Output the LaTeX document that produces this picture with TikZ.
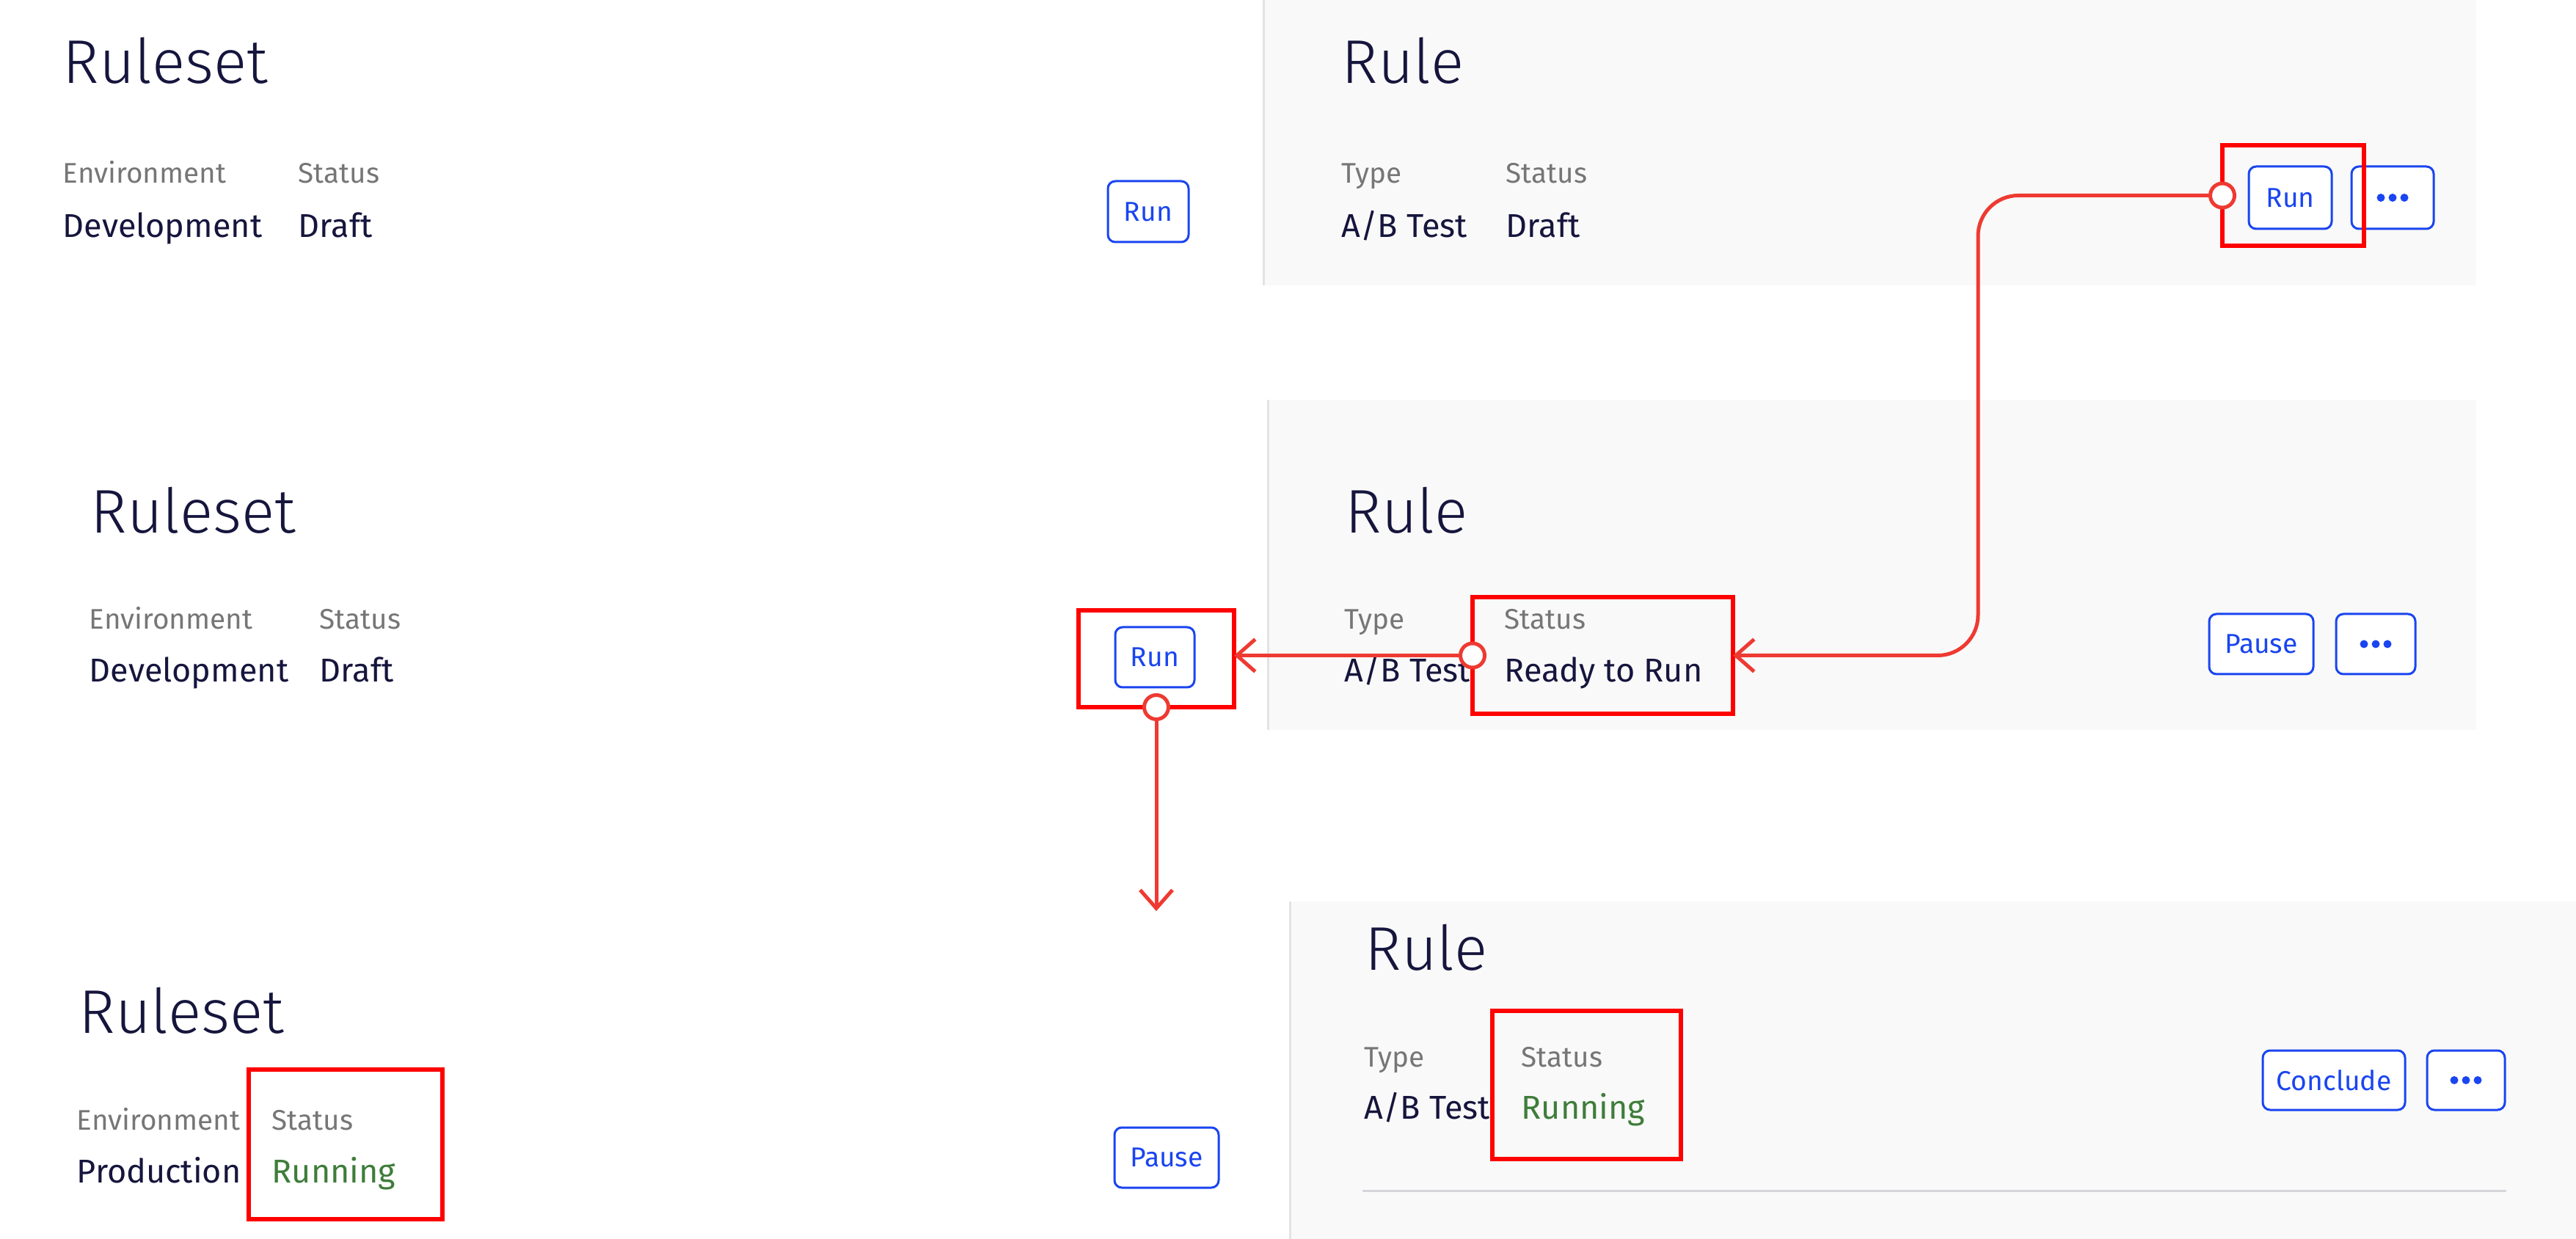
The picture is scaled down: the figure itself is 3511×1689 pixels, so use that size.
\documentclass[tikz,border=0pt]{standalone}
\usepackage{fontspec}
\setmainfont{Fira Sans}
\newfontfamily\thinfont{Fira Sans Light}
\usepackage{tikz}
\usetikzlibrary{arrows.meta,fit,positioning}
\definecolor{ink}{HTML}{15153D}
\definecolor{muted}{HTML}{767676}
\definecolor{okgreen}{HTML}{3E7D3A}
\definecolor{btnblue}{HTML}{1A45F0}
\definecolor{hlred}{HTML}{FF0000}
\definecolor{flowred}{HTML}{EE3A32}
\definecolor{panelbg}{HTML}{F9F9F9}
\definecolor{rim}{HTML}{E3E3E3}
\definecolor{sepline}{HTML}{D6D6DA}

\begin{document}
\begin{tikzpicture}[x=0.01cm, y=-0.01cm,
  title/.style={anchor=base west, inner sep=0, text=ink, font=\thinfont\fontsize{23.9}{26}\selectfont},
  label/.style={anchor=base west, inner sep=0, text=muted, font=\fontsize{11}{12}\selectfont},
  value/.style={anchor=base west, inner sep=0, text=ink, font=\fontsize{12.8}{14}\selectfont},
  btn/.style={draw=btnblue, line width=0.03cm, rounded corners=0.1cm, fill=white, inner sep=0,
    text=btnblue, font=\fontsize{10.6}{12}\selectfont},
  hlbox/.style={draw=hlred, line width=0.06cm, inner sep=0, outer sep=0},
  port/.style={circle, draw=flowred, fill=white, line width=0.05cm, minimum size=0.33cm, inner sep=0},
  flow/.style={draw=flowred, line width=0.05cm, -{Straight Barb[length=0.25cm, width=0.44cm]}}
]
% helper: blue outlined button from corner to corner
\newcommand{\uibtn}[6]{%
  \node[btn, minimum width={(#4-#2)*0.01cm}, minimum height={(#5-#3)*0.01cm}]
    (#1) at ({(#2+#4)/2},{(#3+#5)/2}) {#6};
}
% helper: three dots inside a "more" button
\newcommand{\moredots}[1]{%
  \foreach \d in {-16,0,16}
    \fill[btnblue] ([xshift=\d*0.01cm]#1.center) circle (0.055cm);
}
\useasboundingbox (0,0) rectangle (3511,1689);

% grey rule panels
\fill[panelbg] (1722,0) rectangle (3375,389);
\fill[panelbg] (1728,545) rectangle (3375,995);
\fill[panelbg] (1758,1229) rectangle (3511,1689);
\draw[rim, line width=0.03cm] (1722,0) -- (1722,389);
\draw[rim, line width=0.03cm] (1728,545) -- (1728,995);
\draw[rim, line width=0.03cm] (1758,1229) -- (1758,1689);
\draw[sepline, line width=0.03cm] (1857,1623) -- (3416,1623);

% row 1: draft
\node[title] (rsA) at (85,114) {Ruleset};
\node[label] (envA) at (85,250) {Environment};
\node[label] (stA) at (406,250) {Status};
\node[value] (devA) at (85,324) {Development};
\node[value] (drA) at (406,324) {Draft};
\uibtn{runA}{1510}{247}{1620}{330}{Run}

\node[title] (ruB) at (1828,114) {Rule};
\node[label] (tyB) at (1828,250) {Type};
\node[label] (stB) at (2052,250) {Status};
\node[value] (abB) at (1828,324) {A/B Test};
\node[value] (drB) at (2052,324) {Draft};
\uibtn{runB}{3065}{227}{3178}{312}{Run}
\uibtn{moreB}{3205}{227}{3317}{312}{}
\moredots{moreB}

% row 2: ready to run
\node[title] (rsC) at (123,727) {Ruleset};
\node[label] (envC) at (121,858) {Environment};
\node[label] (stC) at (435,858) {Status};
\node[value] (devC) at (121,930) {Development};
\node[value] (drC) at (435,930) {Draft};
\uibtn{runC}{1520}{855}{1628}{937}{Run}

\node[title] (ruD) at (1833,727) {Rule};
\node[label] (tyD) at (1832,858) {Type};
\node[label] (stD) at (2050,858) {Status};
\node[value] (abD) at (1832,930) {A/B Test};
\node[value] (rdD) at (2050,930) {Ready to Run};
\uibtn{pauseD}{3011}{837}{3153}{919}{Pause}
\uibtn{moreD}{3184}{837}{3292}{919}{}
\moredots{moreD}

% row 3: running
\node[title] (rsE) at (107,1408) {Ruleset};
\node[label] (envE) at (104,1540) {Environment};
\node[label] (stE) at (370,1540) {Status};
\node[value] (prE) at (104,1612) {Production};
\node[value, text=okgreen] (rnE) at (370,1612) {Running};
\uibtn{pauseE}{1519}{1537}{1661}{1619}{Pause}

\node[title] (ruF) at (1860,1322) {Rule};
\node[label] (tyF) at (1859,1454) {Type};
\node[label] (stF) at (2073,1454) {Status};
\node[value] (abF) at (1859,1525) {A/B Test};
\node[value, text=okgreen] (rnF) at (2073,1525) {Running};
\uibtn{concF}{3084}{1432}{3278}{1513}{Conclude}
\uibtn{moreF}{3308}{1432}{3414}{1513}{}
\moredots{moreF}

% red highlights
\node[hlbox, fit={(3029,198) (3222,335)}] (hlRunB) {};
\node[hlbox, fit={(1470,832) (1682,964)}] (hlRunC) {};
\node[hlbox, fit={(2007,814) (2362,973)}] (hlStatusD) {};
\node[hlbox, fit={(339,1458) (603,1662)}] (hlStatusE) {};
\node[hlbox, fit={(2034,1378) (2291,1580)}] (hlStatusF) {};

% flow
\node[port] (pRunB) at (hlRunB.west) {};
\node[port] (pStatusD) at (hlStatusD.west) {};
\node[port] (pRunC) at (hlRunC.south) {};
\coordinate (bend) at (2696,0);
\coordinate (drop) at (1576,1242);
\draw[flow, rounded corners=0.55cm] (pRunB) -| (bend |- hlStatusD.east) -- (hlStatusD.east);
\draw[flow] (pStatusD) -- (pStatusD -| hlRunC.east);
\draw[flow] (pRunC) -- (drop);
\end{tikzpicture}
\end{document}
